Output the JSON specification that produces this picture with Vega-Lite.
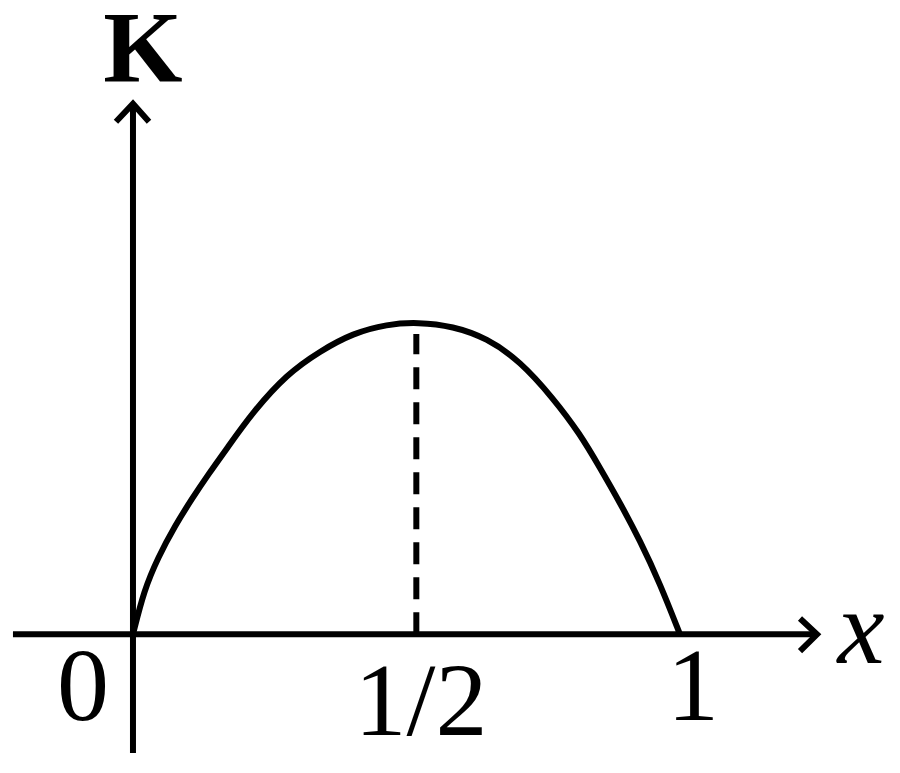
{
  "$schema": "https://vega.github.io/schema/vega-lite/v6.json",
  "width": 900,
  "height": 773,
  "padding": 0,
  "autosize": {"type": "fit", "contains": "padding"},
  "background": "white",
  "config": {"view": {"stroke": null}},
  "datasets": {
    "curve": [
      {"x": 0, "y": 0},
      {"x": 0.0201, "y": 0.1406},
      {"x": 0.0457, "y": 0.246},
      {"x": 0.0768, "y": 0.3482},
      {"x": 0.1079, "y": 0.4345},
      {"x": 0.1371, "y": 0.5112},
      {"x": 0.1737, "y": 0.6006},
      {"x": 0.2194, "y": 0.7125},
      {"x": 0.2815, "y": 0.8339},
      {"x": 0.3419, "y": 0.9073},
      {"x": 0.4022, "y": 0.9649},
      {"x": 0.4644, "y": 0.9936},
      {"x": 0.521, "y": 1.0},
      {"x": 0.585, "y": 0.9872},
      {"x": 0.6472, "y": 0.9489},
      {"x": 0.7075, "y": 0.8754},
      {"x": 0.7678, "y": 0.7572},
      {"x": 0.8172, "y": 0.6422},
      {"x": 0.8537, "y": 0.5335},
      {"x": 0.8903, "y": 0.4217},
      {"x": 0.9269, "y": 0.3003},
      {"x": 0.9634, "y": 0.1629},
      {"x": 1.0, "y": 0}
    ],
    "axes": [
      {"name": "x", "x": -0.2194, "y": 0, "x2": 1.2505, "y2": 0},
      {"name": "y", "x": 0, "y": -0.38, "x2": 0, "y2": 1.7}
    ],
    "guide": [
      {"x": 0.518, "y": 0, "x2": 0.518, "y2": 0.962}
    ],
    "arrows": [
      {"seg": "xa", "o": 1, "x": 1.2194, "y": 0.051},
      {"seg": "xa", "o": 2, "x": 1.2505, "y": 0},
      {"seg": "xa", "o": 3, "x": 1.2194, "y": -0.054},
      {"seg": "ya", "o": 1, "x": -0.0311, "y": 1.642},
      {"seg": "ya", "o": 2, "x": 0, "y": 1.7},
      {"seg": "ya", "o": 3, "x": 0.0293, "y": 1.642}
    ],
    "labels": [
      {"role": "axis", "text": "K", "x": 0.0183, "y": 1.77},
      {"role": "var", "text": "x", "x": 1.331, "y": -0.0927},
      {"role": "tick", "text": "0", "x": -0.0914, "y": -0.2748},
      {"role": "tick", "text": "1/2", "x": 0.5265, "y": -0.3227},
      {"role": "tick", "text": "1", "x": 1.0238, "y": -0.2748}
    ]
  },
  "encoding": {
    "x": {"field": "x", "type": "quantitative", "axis": null, "scale": {"domain": [-0.2431, 1.4022], "nice": false, "zero": false}},
    "y": {"field": "y", "type": "quantitative", "axis": null, "scale": {"domain": [-0.4441, 2.0256], "nice": false, "zero": false}}
  },
  "layer": [
    {
      "data": {"name": "axes"},
      "mark": {"type": "rule", "color": "black", "strokeWidth": 6},
      "encoding": {"x2": {"field": "x2"}, "y2": {"field": "y2"}}
    },
    {
      "data": {"name": "arrows"},
      "mark": {"type": "line", "color": "black", "strokeWidth": 6, "strokeJoin": "miter", "strokeCap": "butt"},
      "encoding": {"detail": {"field": "seg"}, "order": {"field": "o"}}
    },
    {
      "data": {"name": "guide"},
      "mark": {"type": "rule", "color": "black", "strokeWidth": 6, "strokeDash": [22, 13]},
      "encoding": {"x2": {"field": "x2"}, "y2": {"field": "y2"}}
    },
    {
      "data": {"name": "curve"},
      "mark": {"type": "line", "color": "black", "strokeWidth": 6, "interpolate": "basis"},
      "encoding": {}
    },
    {
      "data": {"name": "labels"},
      "transform": [{"filter": "datum.role === 'axis'"}],
      "mark": {"type": "text", "font": "Liberation Serif", "fontSize": 102, "fontWeight": "bold", "baseline": "alphabetic", "align": "center", "color": "black"},
      "encoding": {"text": {"field": "text"}}
    },
    {
      "data": {"name": "labels"},
      "transform": [{"filter": "datum.role === 'var'"}],
      "mark": {"type": "text", "font": "Liberation Serif", "fontSize": 106, "fontStyle": "italic", "baseline": "alphabetic", "align": "center", "color": "black"},
      "encoding": {"text": {"field": "text"}}
    },
    {
      "data": {"name": "labels"},
      "transform": [{"filter": "datum.role === 'tick'"}],
      "mark": {"type": "text", "font": "Liberation Serif", "fontSize": 104, "baseline": "alphabetic", "align": "center", "color": "black"},
      "encoding": {"text": {"field": "text"}}
    }
  ]
}
